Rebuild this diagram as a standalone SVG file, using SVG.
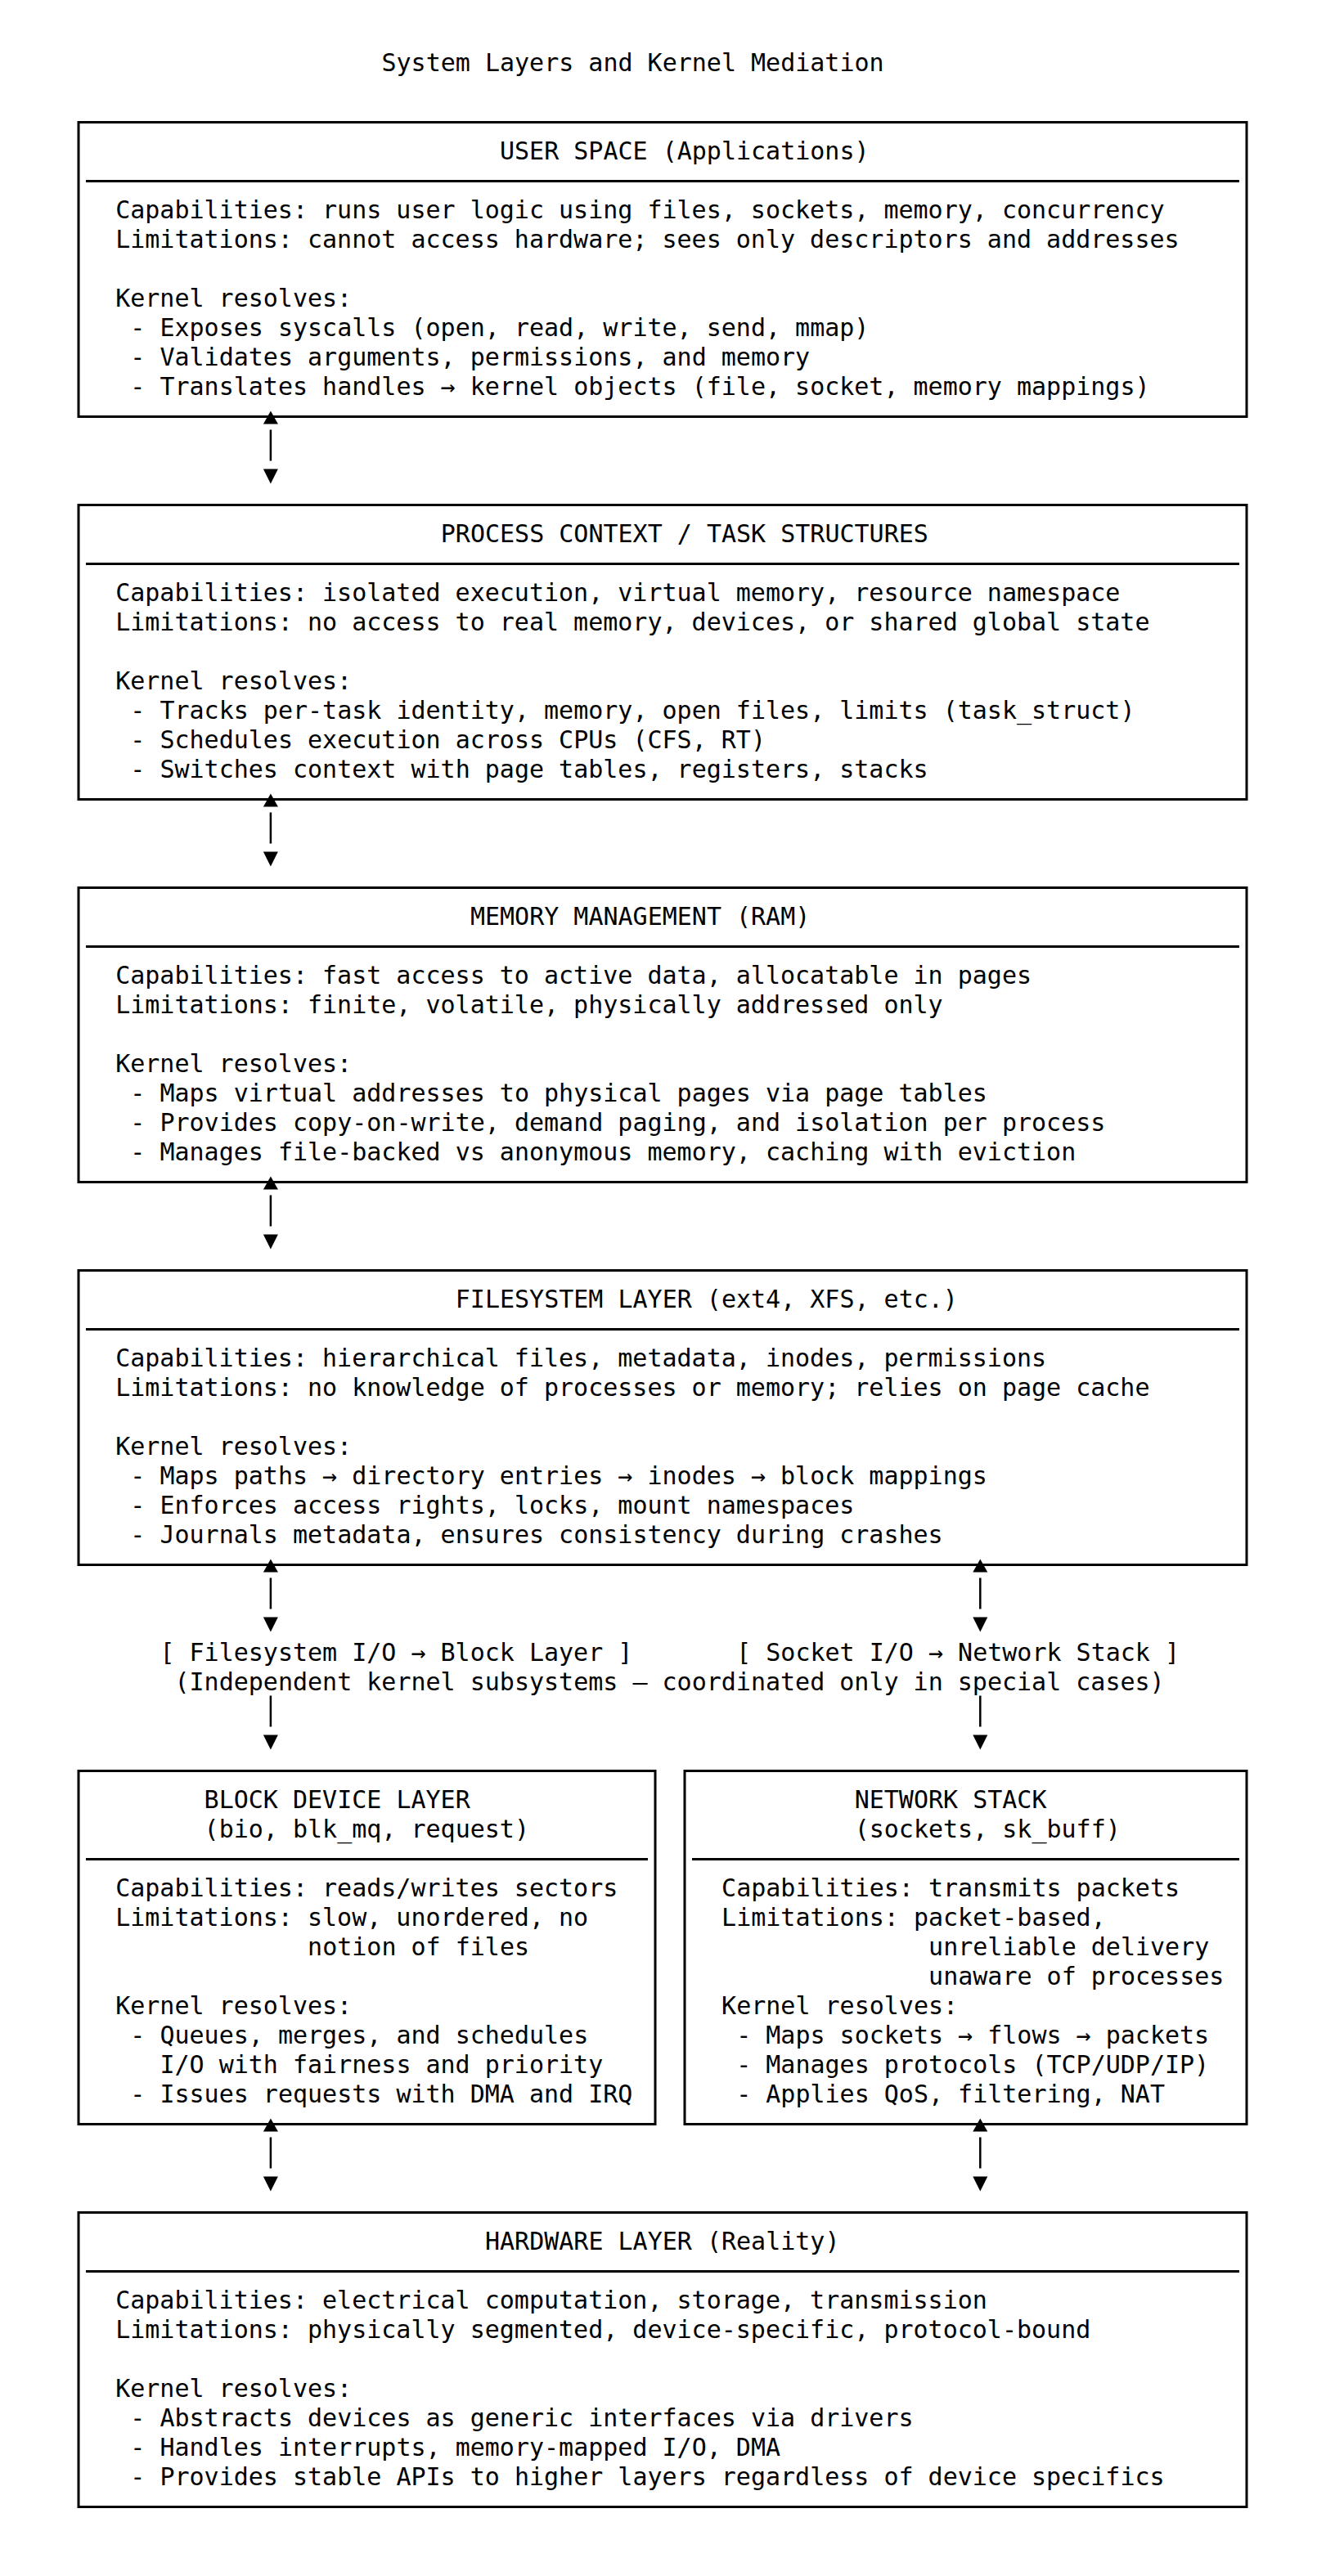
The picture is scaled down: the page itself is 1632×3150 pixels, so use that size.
<svg xmlns="http://www.w3.org/2000/svg" width="1632" height="3150" viewBox="0 0 1632 3150">
<style>
.t { font-family: "DejaVu Sans Mono", "Liberation Mono", monospace; font-size: 30px; fill: #000; white-space: pre; }
.box { fill: none; stroke: #000; stroke-width: 3; }
.div { stroke: #000; stroke-width: 3; }
.conn { stroke: #000; stroke-width: 2.5; fill: none; }
</style>
<defs>
<marker id="headDown" markerUnits="userSpaceOnUse" orient="auto" refX="0" refY="0" markerWidth="40" markerHeight="40" overflow="visible">
<polygon points="10,-9 28,0 10,9" fill="#000"/>
</marker>
<marker id="headUp" markerUnits="userSpaceOnUse" orient="auto-start-reverse" refX="0" refY="0" markerWidth="40" markerHeight="40" overflow="visible">
<polygon points="7,-9 23,0 7,9" fill="#000"/>
</marker>
</defs>
<rect width="1632" height="3150" fill="#fff"/>

<text id="title" class="t" x="466.5" y="87">System Layers and Kernel Mediation</text>

<g id="user-space">
<rect class="box" x="96" y="149.5" width="1428" height="360"/>
<line class="div" x1="105" y1="221.5" x2="1515" y2="221.5"/>
<text class="t" x="611" y="195">USER SPACE (Applications)</text>
<text class="t" x="141.2" y="267">Capabilities: runs user logic using files, sockets, memory, concurrency</text>
<text class="t" x="141.2" y="303">Limitations: cannot access hardware; sees only descriptors and addresses</text>
<text class="t" x="141.2" y="375">Kernel resolves:</text>
<text class="t" x="159.3" y="411">- Exposes syscalls (open, read, write, send, mmap)</text>
<text class="t" x="159.3" y="447">- Validates arguments, permissions, and memory</text>
<text class="t" x="159.3" y="483">- Translates handles → kernel objects (file, socket, memory mappings)</text>
</g>

<g id="process-context">
<rect class="box" x="96" y="617.5" width="1428" height="360"/>
<line class="div" x1="105" y1="689.5" x2="1515" y2="689.5"/>
<text class="t" x="538.8" y="663">PROCESS CONTEXT / TASK STRUCTURES</text>
<text class="t" x="141.2" y="735">Capabilities: isolated execution, virtual memory, resource namespace</text>
<text class="t" x="141.2" y="771">Limitations: no access to real memory, devices, or shared global state</text>
<text class="t" x="141.2" y="843">Kernel resolves:</text>
<text class="t" x="159.3" y="879">- Tracks per-task identity, memory, open files, limits (task_struct)</text>
<text class="t" x="159.3" y="915">- Schedules execution across CPUs (CFS, RT)</text>
<text class="t" x="159.3" y="951">- Switches context with page tables, registers, stacks</text>
</g>

<g id="memory-management">
<rect class="box" x="96" y="1085.5" width="1428" height="360"/>
<line class="div" x1="105" y1="1157.5" x2="1515" y2="1157.5"/>
<text class="t" x="574.9" y="1131">MEMORY MANAGEMENT (RAM)</text>
<text class="t" x="141.2" y="1203">Capabilities: fast access to active data, allocatable in pages</text>
<text class="t" x="141.2" y="1239">Limitations: finite, volatile, physically addressed only</text>
<text class="t" x="141.2" y="1311">Kernel resolves:</text>
<text class="t" x="159.3" y="1347">- Maps virtual addresses to physical pages via page tables</text>
<text class="t" x="159.3" y="1383">- Provides copy-on-write, demand paging, and isolation per process</text>
<text class="t" x="159.3" y="1419">- Manages file-backed vs anonymous memory, caching with eviction</text>
</g>

<g id="filesystem-layer">
<rect class="box" x="96" y="1553.5" width="1428" height="360"/>
<line class="div" x1="105" y1="1625.5" x2="1515" y2="1625.5"/>
<text class="t" x="556.8" y="1599">FILESYSTEM LAYER (ext4, XFS, etc.)</text>
<text class="t" x="141.2" y="1671">Capabilities: hierarchical files, metadata, inodes, permissions</text>
<text class="t" x="141.2" y="1707">Limitations: no knowledge of processes or memory; relies on page cache</text>
<text class="t" x="141.2" y="1779">Kernel resolves:</text>
<text class="t" x="159.3" y="1815">- Maps paths → directory entries → inodes → block mappings</text>
<text class="t" x="159.3" y="1851">- Enforces access rights, locks, mount namespaces</text>
<text class="t" x="159.3" y="1887">- Journals metadata, ensures consistency during crashes</text>
</g>

<g id="split-labels">
<text class="t" x="195.4" y="2031">[ Filesystem I/O → Block Layer ]</text>
<text class="t" x="900.2" y="2031">[ Socket I/O → Network Stack ]</text>
<text class="t" x="213.5" y="2067">(Independent kernel subsystems — coordinated only in special cases)</text>
</g>

<g id="block-device-layer">
<rect class="box" x="96" y="2165.5" width="705" height="432"/>
<line class="div" x1="105" y1="2273.5" x2="792" y2="2273.5"/>
<text class="t" x="249.6" y="2211">BLOCK DEVICE LAYER</text>
<text class="t" x="249.6" y="2247">(bio, blk_mq, request)</text>
<text class="t" x="141.2" y="2319">Capabilities: reads/writes sectors</text>
<text class="t" x="141.2" y="2355">Limitations: slow, unordered, no</text>
<text class="t" x="376.1" y="2391">notion of files</text>
<text class="t" x="141.2" y="2463">Kernel resolves:</text>
<text class="t" x="159.3" y="2499">- Queues, merges, and schedules</text>
<text class="t" x="195.4" y="2535">I/O with fairness and priority</text>
<text class="t" x="159.3" y="2571">- Issues requests with DMA and IRQ</text>
</g>

<g id="network-stack">
<rect class="box" x="837" y="2165.5" width="687" height="432"/>
<line class="div" x1="846" y1="2273.5" x2="1515" y2="2273.5"/>
<text class="t" x="1044.7" y="2211">NETWORK STACK</text>
<text class="t" x="1044.7" y="2247">(sockets, sk_buff)</text>
<text class="t" x="882.1" y="2319">Capabilities: transmits packets</text>
<text class="t" x="882.1" y="2355">Limitations: packet-based,</text>
<text class="t" x="1135.1" y="2391">unreliable delivery</text>
<text class="t" x="1135.1" y="2427">unaware of processes</text>
<text class="t" x="882.1" y="2463">Kernel resolves:</text>
<text class="t" x="900.2" y="2499">- Maps sockets → flows → packets</text>
<text class="t" x="900.2" y="2535">- Manages protocols (TCP/UDP/IP)</text>
<text class="t" x="900.2" y="2571">- Applies QoS, filtering, NAT</text>
</g>

<g id="hardware-layer">
<rect class="box" x="96" y="2705.5" width="1428" height="360"/>
<line class="div" x1="105" y1="2777.5" x2="1515" y2="2777.5"/>
<text class="t" x="593" y="2751">HARDWARE LAYER (Reality)</text>
<text class="t" x="141.2" y="2823">Capabilities: electrical computation, storage, transmission</text>
<text class="t" x="141.2" y="2859">Limitations: physically segmented, device-specific, protocol-bound</text>
<text class="t" x="141.2" y="2931">Kernel resolves:</text>
<text class="t" x="159.3" y="2967">- Abstracts devices as generic interfaces via drivers</text>
<text class="t" x="159.3" y="3003">- Handles interrupts, memory-mapped I/O, DMA</text>
<text class="t" x="159.3" y="3039">- Provides stable APIs to higher layers regardless of device specifics</text>
</g>

<g id="connectors">
<path class="conn" d="M330.9,525.5 V563.5" marker-start="url(#headUp)" marker-end="url(#headDown)"/>
<path class="conn" d="M330.9,993.5 V1031.5" marker-start="url(#headUp)" marker-end="url(#headDown)"/>
<path class="conn" d="M330.9,1461.5 V1499.5" marker-start="url(#headUp)" marker-end="url(#headDown)"/>
<path class="conn" d="M330.9,1929.5 V1967.5" marker-start="url(#headUp)" marker-end="url(#headDown)"/>
<path class="conn" d="M1198.3,1929.5 V1967.5" marker-start="url(#headUp)" marker-end="url(#headDown)"/>
<path class="conn" d="M330.9,2073.5 V2111.5" marker-end="url(#headDown)"/>
<path class="conn" d="M1198.3,2073.5 V2111.5" marker-end="url(#headDown)"/>
<path class="conn" d="M330.9,2613.5 V2651.5" marker-start="url(#headUp)" marker-end="url(#headDown)"/>
<path class="conn" d="M1198.3,2613.5 V2651.5" marker-start="url(#headUp)" marker-end="url(#headDown)"/>
</g>
</svg>
